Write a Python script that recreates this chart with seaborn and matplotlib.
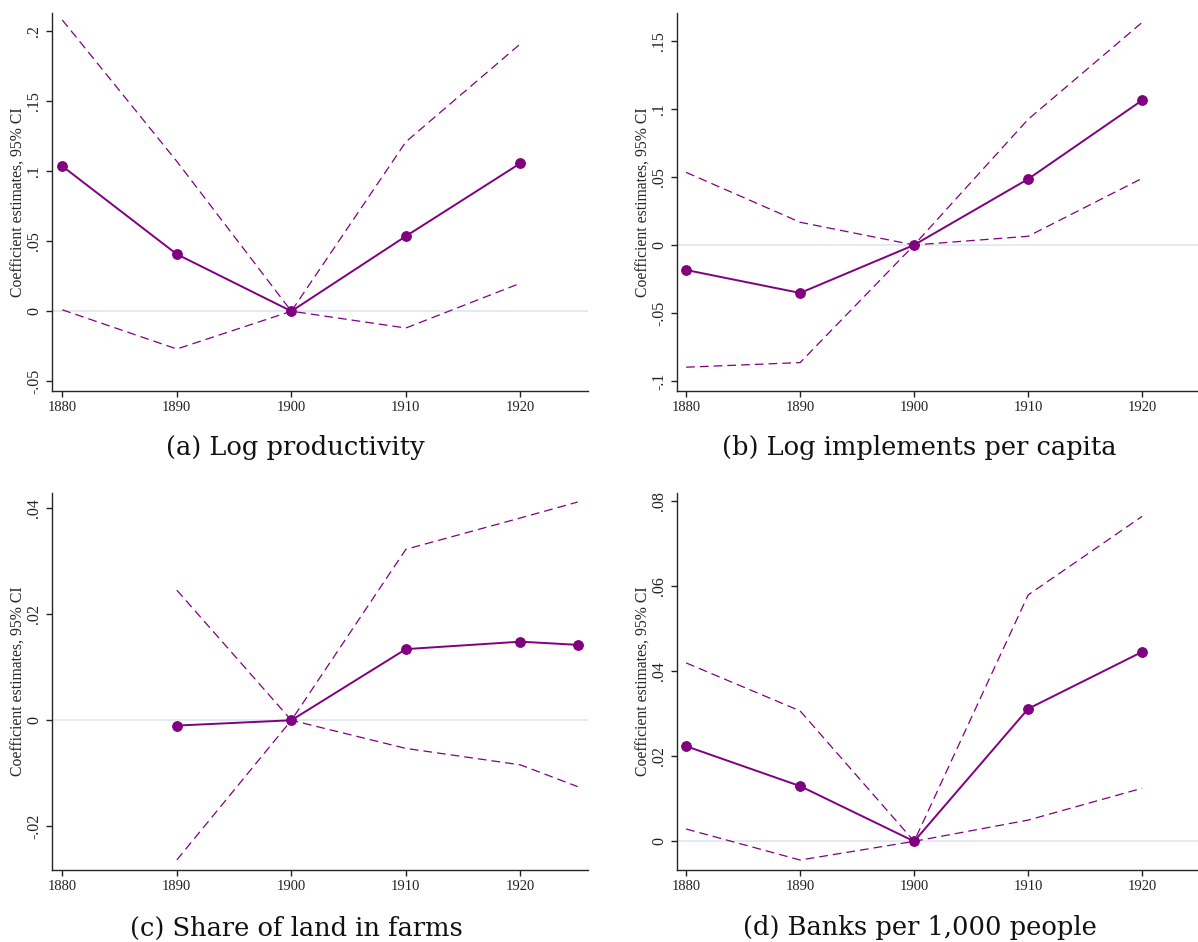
import numpy as np
import pandas as pd
import seaborn as sns
import matplotlib.pyplot as plt

# Data
years = [1880, 1890, 1900, 1910, 1920]
years_c = [1890, 1900, 1910, 1920, 1925]

prod_est = [0.1036, 0.0407, 0.0, 0.0536, 0.1057]
prod_hi = [0.208, 0.107, 0.0, 0.121, 0.191]
prod_lo = [0.001, -0.027, 0.0, -0.012, 0.020]

impl_est = [-0.0184, -0.0353, 0.0, 0.0485, 0.1064]
impl_hi = [0.0534, 0.0167, 0.0, 0.0924, 0.1637]
impl_lo = [-0.0899, -0.0865, 0.0, 0.0064, 0.0490]

land_est = [-0.0010, 0.0, 0.0134, 0.0148, 0.0142]
land_hi = [0.0245, 0.0, 0.0322, 0.0381, 0.0411]
land_lo = [-0.0263, 0.0, -0.0053, -0.0084, -0.0125]

bank_est = [0.0224, 0.0130, 0.0, 0.0312, 0.0446]
bank_hi = [0.0420, 0.0307, 0.0, 0.0580, 0.0765]
bank_lo = [0.0029, -0.0044, 0.0, 0.0050, 0.0125]

xticks = [1880, 1890, 1900, 1910, 1920]
yticks_a = [-0.05, 0, 0.05, 0.1, 0.15, 0.2]
ylabels_a = ['-.05', '0', '.05', '.1', '.15', '.2']
yticks_b = [-0.1, -0.05, 0, 0.05, 0.1, 0.15]
ylabels_b = ['-.1', '-.05', '0', '.05', '.1', '.15']
yticks_c = [-0.02, 0, 0.02, 0.04]
ylabels_c = ['-.02', '0', '.02', '.04']
yticks_d = [0, 0.02, 0.04, 0.06, 0.08]
ylabels_d = ['0', '.02', '.04', '.06', '.08']

captions = ['(a) Log productivity', '(b) Log implements per capita',
            '(c) Share of land in farms', '(d) Banks per 1,000 people']

sns.set_style("ticks")
plt.rcParams['font.family'] = ['Liberation Serif', 'DejaVu Serif']

purple = '#800080'
serif = 'Liberation Serif'
W, H = 1198, 942


def draw_panel(ax, x, est, lo, hi, yticks, ylabels, ylim, xlim):
    df = pd.DataFrame({'year': x, 'est': est, 'lo': lo, 'hi': hi})
    ax.axhline(0, color='#dfe7ee', lw=1.2, zorder=0)
    sns.lineplot(data=df, x='year', y='hi', ax=ax, color=purple, lw=0.9,
                 linestyle=(0, (7, 4)))
    sns.lineplot(data=df, x='year', y='lo', ax=ax, color=purple, lw=0.9,
                 linestyle=(0, (7, 4)))
    sns.lineplot(data=df, x='year', y='est', ax=ax, color=purple, lw=1.4,
                 marker='o', markersize=7, markeredgecolor=purple)
    ax.set_xlim(*xlim)
    ax.set_ylim(*ylim)
    ax.set_xticks(xticks)
    ax.set_xticklabels([str(t) for t in xticks], fontfamily=serif, fontsize=10.5)
    ax.set_yticks(yticks)
    ax.set_yticklabels(ylabels, fontfamily=serif, fontsize=11.5, rotation=90,
                       va='center')
    ax.tick_params(axis='both', length=4.5, width=1, pad=2.5, colors='#222222')
    ax.set_xlabel('')
    ax.set_ylabel('Coefficient estimates, 95% CI', fontsize=11.3,
                  fontfamily=serif, labelpad=0)
    sns.despine(ax=ax)
    ax.spines['left'].set_linewidth(1)
    ax.spines['bottom'].set_linewidth(1)


fig = plt.figure(figsize=(W / 100, H / 100), dpi=100)


def box(l, r, t, b):
    return [l / W, 1 - b / H, (r - l) / W, (b - t) / H]


ax_a = fig.add_axes(box(52, 588, 13, 391))
ax_b = fig.add_axes(box(677, 1198, 13, 391))
ax_c = fig.add_axes(box(52, 588, 493, 870))
ax_d = fig.add_axes(box(677, 1198, 493, 870))

draw_panel(ax_a, years, prod_est, prod_lo, prod_hi, yticks_a, ylabels_a,
           (-0.057, 0.213), (1879.1, 1925.9))
draw_panel(ax_b, years, impl_est, impl_lo, impl_hi, yticks_b, ylabels_b,
           (-0.1074, 0.1706), (1879.2, 1924.9))
draw_panel(ax_c, years_c, land_est, land_lo, land_hi, yticks_c, ylabels_c,
           (-0.0282, 0.0428), (1879.1, 1925.9))
draw_panel(ax_d, years, bank_est, bank_lo, bank_hi, yticks_d, ylabels_d,
           (-0.00675, 0.082), (1879.2, 1924.9))

cap_pos = [(295, 448), (919, 448), (296, 928), (920, 928)]
for (cx, cy), txt in zip(cap_pos, captions):
    fig.text(cx / W, 1 - cy / H, txt, ha='center', va='center', fontsize=18.5,
             fontfamily='DejaVu Serif', color='#111111')

fig.savefig('out.png', dpi=100)
